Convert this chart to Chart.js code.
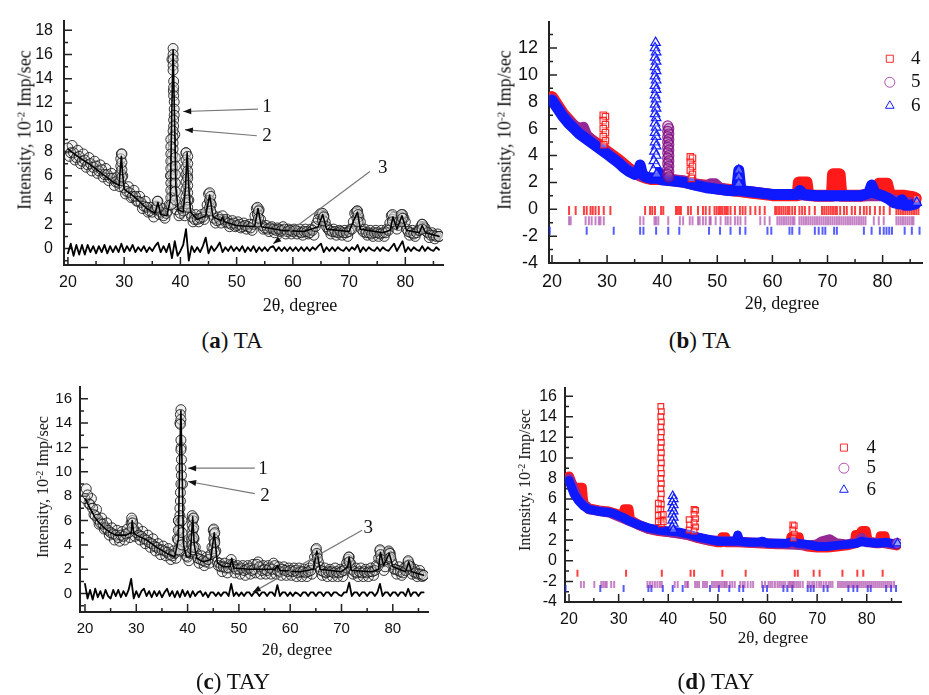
<!DOCTYPE html>
<html>
<head>
<meta charset="utf-8">
<script src="https://cdn.jsdelivr.net/npm/chart.js@4.4.0/dist/chart.umd.min.js"></script>
<style>
  body { margin: 0; width: 929px; height: 695px; background: #fff; position: relative; overflow: hidden; font-family: 'Liberation Serif', serif; color: #111; }
  canvas { position: absolute; }
  .ytitle { position: absolute; transform: translate(-50%, -50%) rotate(-90deg); white-space: nowrap; }
  .xtitle { position: absolute; transform: translate(-50%, -50%); white-space: nowrap; }
  .cap { position: absolute; transform: translate(-50%, -50%); white-space: nowrap; font-size: 23px; }
  sup { font-size: 0.62em; vertical-align: 0.55em; line-height: 0; }
</style>
</head>
<body>
<canvas id="chartA" width="460" height="300" style="left:0;top:0"></canvas>
<canvas id="chartB" width="469" height="300" style="left:460px;top:0"></canvas>
<canvas id="chartC" width="460" height="300" style="left:0;top:370px"></canvas>
<canvas id="chartD" width="469" height="300" style="left:460px;top:370px"></canvas>

<div class="ytitle" style="left:25px;top:130px;font-size:18px">Intensity, 10<sup>-2</sup> Imp/sec</div>
<div class="ytitle" style="left:505px;top:130px;font-size:18px">Intensity, 10<sup>-2</sup> Imp/sec</div>
<div class="ytitle" style="left:43px;top:487px;font-size:16px">Intensity, 10<sup>-2</sup> Imp/sec</div>
<div class="ytitle" style="left:525px;top:480px;font-size:16px">Intensity, 10<sup>-2</sup> Imp/sec</div>

<div class="xtitle" style="left:300px;top:305px;font-size:18px">2θ, degree</div>
<div class="xtitle" style="left:782px;top:303px;font-size:18px">2θ, degree</div>
<div class="xtitle" style="left:297px;top:650px;font-size:17px">2θ, degree</div>
<div class="xtitle" style="left:773px;top:638px;font-size:17px">2θ, degree</div>

<div class="cap" style="left:232px;top:341px">(<b>a</b>) TA</div>
<div class="cap" style="left:700px;top:341px">(<b>b</b>) TA</div>
<div class="cap" style="left:233px;top:682px">(<b>c</b>) TAY</div>
<div class="cap" style="left:716px;top:682px">(<b>d</b>) TAY</div>

<script>
// observed patterns: two interleaved half-degree samplings (20, 20.5, ... and 20.25, 20.75, ...)
const GRID_START = 20;
const GRID2_START = 20.25;
const GRID_STEP = 0.5;

const xLabels = [20, 30, 40, 50, 60, 70, 80];
const xMinor = [25, 35, 45, 55, 65, 75, 85];

// ---------- (a) TA ----------
const obsA = [
  8.3, 7.9, 7.9, 7.5, 7.6, 7.2, 7.3, 6.9, 7.0, 6.7,
  6.8, 6.4, 6.5, 6.1, 6.1, 5.8, 5.8, 5.5, 5.4, 7.8,
  5.0, 4.7, 4.6, 4.3, 4.3, 3.9, 3.8, 3.5, 3.4, 3.1,
  3.0, 3.2, 3.9, 3.0, 2.7, 2.9, 3.6, 15.6, 9.4, 3.6,
  2.9, 3.1, 7.9, 4.0, 2.6, 2.4, 2.4, 2.5, 2.6, 3.0,
  4.5, 3.6, 2.5, 2.3, 2.4, 2.7, 2.2, 2.1, 2.0, 2.1,
  1.9, 2.0, 1.8, 1.9, 1.8, 1.7, 2.0, 3.3, 3.2, 1.9,
  1.7, 1.6, 1.7, 1.6, 1.5, 1.6, 1.5, 1.6, 1.4, 1.5,
  1.4, 1.5, 1.4, 1.3, 1.4, 1.4, 1.3, 1.5, 1.8, 2.4,
  2.9, 2.7, 1.8, 1.5, 1.4, 1.4, 1.3, 1.4, 1.3, 1.3,
  1.4, 1.6, 2.9, 3.1, 2.2, 1.4, 1.3, 1.3, 1.2, 1.3,
  1.3, 1.2, 1.3, 1.3, 1.5, 2.7, 2.6, 1.6, 2.3, 2.8,
  2.2, 1.4, 1.3, 1.2, 1.3, 1.5, 2.0, 1.7, 1.3, 1.1,
  1.1, 1.0, 1.0
];
const obsA2 = [
  7.6, 8.5, 7.3, 8.1, 7.0, 7.8, 6.7, 7.5, 6.4, 7.2,
  6.2, 6.9, 5.9, 6.6, 5.6, 6.2, 5.2, 5.9, 5.1, 6.0,
  4.5, 5.1, 4.2, 4.8, 3.9, 4.3, 3.3, 3.9, 3.0, 3.4,
  2.6, 3.5, 2.8, 3.3, 2.5, 3.1, 6.0, 13.0, 3.2, 2.7,
  3.3, 2.7, 6.0, 2.9, 2.2, 2.8, 2.2, 2.8, 2.4, 3.6,
  3.9, 2.8, 2.1, 2.6, 2.1, 2.4, 2.4, 1.8, 2.3, 1.8,
  2.2, 1.7, 2.1, 1.6, 2.0, 1.5, 2.7, 2.9, 2.4, 1.6,
  1.9, 1.4, 1.8, 1.3, 1.7, 1.4, 1.8, 1.2, 1.6, 1.2,
  1.6, 1.2, 1.6, 1.1, 1.6, 1.2, 1.6, 1.1, 2.1, 2.8,
  2.4, 2.2, 1.6, 1.2, 1.6, 1.1, 1.5, 1.1, 1.5, 1.0,
  1.6, 2.2, 3.0, 2.6, 1.6, 1.6, 1.1, 1.5, 1.0, 1.5,
  1.0, 1.5, 1.0, 1.6, 2.1, 2.4, 2.0, 1.9, 2.6, 2.5,
  1.6, 1.1, 1.5, 1.0, 1.5, 1.8, 1.8, 1.4, 0.9, 1.3,
  0.8, 1.2
];
const peakA = [
  [29.4, 5.6], [29.4, 6.2], [29.4, 6.8], [29.4, 7.4], [29.6, 5.9], [29.6, 6.5], [29.6, 7.1], [29.6, 7.8],
  [35.9, 3.4], [35.9, 3.9],
  [38.7, 16.5], [38.7, 16.0], [38.7, 15.6], [38.7, 15.1], [38.7, 14.7], [38.8, 13.8], [38.8, 13.3], [38.8, 12.6],
  [38.9, 12.1], [38.9, 11.5], [38.9, 11.0], [38.8, 10.6], [38.8, 10.1], [38.7, 9.7], [38.7, 9.2], [38.7, 8.7],
  [38.7, 8.2], [38.6, 7.7], [38.6, 7.2], [38.6, 6.7], [38.6, 6.2], [38.6, 5.7], [38.6, 5.2], [38.6, 4.7],
  [38.6, 4.2], [38.6, 3.7], [38.3, 9.0], [38.3, 8.4], [38.3, 7.8], [38.3, 7.2], [38.3, 6.6], [38.3, 6.0],
  [38.3, 5.4], [38.3, 4.8], [38.3, 4.2], [38.3, 3.6], [39.1, 7.5], [39.1, 6.8], [39.1, 6.1], [39.1, 5.4],
  [39.1, 4.7], [39.1, 4.0],
  [41.0, 7.9], [41.0, 7.3], [41.0, 6.7], [41.0, 6.1], [41.0, 5.5], [41.0, 4.9], [41.0, 4.3], [41.0, 3.7],
  [41.3, 7.6], [41.3, 7.0], [41.3, 6.4], [41.3, 5.8], [41.3, 5.2], [41.3, 4.6], [41.3, 4.0], [41.3, 3.4],
  [45.2, 4.6], [45.2, 4.0], [45.2, 3.4], [45.4, 4.3], [45.4, 3.7], [45.4, 3.1],
  [53.7, 3.4], [53.7, 2.8], [53.7, 2.2], [53.9, 3.1], [53.9, 2.5],
  [65.3, 2.9], [65.3, 2.3], [65.5, 2.6],
  [71.4, 3.1], [71.4, 2.5], [71.6, 2.8], [71.6, 2.2],
  [77.7, 2.8], [77.7, 2.2], [79.3, 2.8], [79.3, 2.2], [79.5, 2.5],
  [83.0, 2.0], [83.0, 1.6], [86.0, 1.0]
];
const calcA = [
  [20, 8.2], [22, 7.5], [24, 6.9], [26, 6.2], [28, 5.5], [29.1, 5.2], [29.3, 6.5], [29.5, 7.6], [29.7, 6.3],
  [30, 4.9], [32, 4.2], [34, 3.3], [35.5, 2.9], [36, 3.8], [36.5, 2.8], [37.6, 2.7], [38.2, 4.0], [38.5, 12.0],
  [38.7, 16.4], [38.9, 12.0], [39.2, 5.0], [39.6, 3.2], [40.5, 3.0], [40.9, 5.0], [41.2, 7.9], [41.5, 5.0],
  [41.8, 3.0], [43, 2.4], [44.5, 2.7], [45.2, 4.4], [45.8, 2.6], [47.2, 2.3], [47.5, 2.6], [47.8, 2.2],
  [50, 1.9], [53.2, 1.8], [53.8, 3.3], [54.4, 1.8], [58, 1.5], [62, 1.4], [64.5, 1.8], [65.3, 2.8], [66, 1.6],
  [70, 1.4], [71, 2.5], [71.5, 3.0], [72, 1.6], [76, 1.3], [77.3, 1.5], [77.8, 2.6], [78.5, 1.6], [79.4, 2.7],
  [80.2, 1.5], [82.5, 1.3], [83, 1.9], [83.6, 1.3], [86, 1.0]
];
const diffA = [
  -0.4, 0.4, -0.6, 0.3, -0.5, 0.3, -0.5, 0.3, -0.3, 0.2,
  -0.4, 0.2, -0.3, 0.3, -0.4, 0.2, -0.3, 0.2, -0.3, 0.4,
  -0.3, 0.2, -0.2, 0.3, -0.3, 0.1, -0.2, 0.2, -0.3, 0.1,
  -0.2, 0.2, 0.5, -0.3, 0.2, -0.3, 0.4, -0.8, 0.6, -0.6,
  -0.2, 0.3, 1.6, -1.0, 0.2, -0.3, 0.1, -0.3, 0.2, 0.9,
  -0.4, 0.2, -0.2, 0.1, 0.5, -0.3, 0.1, -0.2, 0.2, -0.2,
  0.1, -0.2, 0.2, -0.3, 0.1, -0.2, 0.2, -0.3, 0.1, -0.2,
  0.1, -0.2, 0.1, 0.2, -0.2, 0.1, -0.2, 0.1, -0.2, 0.1,
  -0.2, 0.1, -0.2, 0.1, -0.2, 0.1, -0.2, 0.1, -0.1, 0.2,
  0.4, -0.3, 0.1, -0.2, 0.1, -0.2, 0.1, -0.1, -0.2, 0.1,
  -0.2, 0.1, -0.1, 0.3, -0.3, 0.1, -0.2, 0.1, -0.1, -0.2,
  0.1, -0.2, 0.1, -0.1, -0.2, 0.1, 0.4, -0.2, 0.2, 0.6,
  -0.3, 0.1, -0.2, 0.1, -0.1, -0.2, 0.2, -0.2, 0.1, -0.1,
  -0.2, 0.1, -0.1
];

// ---------- (c) TAY ----------
const obsC = [
  7.8, 8.1, 7.3, 7.0, 6.4, 6.1, 5.8, 5.7, 5.4, 5.2,
  5.0, 4.9, 4.8, 4.6, 4.8, 4.7, 4.9, 5.0, 5.8, 5.3,
  5.0, 4.8, 4.7, 4.5, 4.4, 4.2, 4.1, 3.9, 3.8, 3.6,
  3.6, 3.5, 3.4, 3.2, 3.1, 3.3, 4.5, 14.0, 9.0, 3.5,
  3.0, 3.3, 6.2, 3.8, 2.9, 2.8, 2.7, 2.6, 2.8, 3.2,
  5.2, 3.5, 2.3, 2.2, 2.2, 2.1, 2.1, 2.8, 2.2, 2.0,
  2.0, 2.1, 1.9, 2.0, 2.1, 1.9, 2.0, 2.4, 2.2, 1.9,
  2.0, 1.9, 2.1, 2.0, 2.3, 1.9, 1.8, 2.0, 1.9, 1.8,
  1.9, 1.8, 1.9, 1.7, 1.8, 1.8, 1.7, 1.8, 1.9, 2.4,
  3.6, 2.6, 1.9, 1.8, 1.7, 1.8, 1.8, 1.7, 1.8, 1.7,
  1.8, 1.9, 2.5, 3.0, 2.0, 1.8, 1.7, 1.8, 1.7, 1.8,
  1.7, 1.8, 1.8, 1.9, 2.2, 3.5, 2.6, 2.2, 3.2, 3.3,
  2.4, 2.0, 1.9, 1.8, 1.7, 1.9, 2.6, 2.2, 1.8, 1.7,
  1.6, 1.6, 1.5
];
const obsC2 = [
  8.6, 7.4, 7.8, 6.5, 6.9, 5.7, 6.2, 5.3, 5.8, 4.8,
  5.4, 4.4, 5.2, 4.3, 5.1, 4.4, 5.3, 4.6, 6.0, 4.7,
  5.4, 4.4, 5.1, 4.1, 4.8, 3.8, 4.5, 3.5, 4.1, 3.2,
  3.9, 3.1, 3.7, 2.8, 3.5, 2.9, 6.0, 12.0, 3.9, 3.1,
  2.7, 4.5, 4.5, 3.3, 2.5, 3.1, 2.3, 3.0, 2.5, 3.8,
  4.4, 2.6, 2.5, 1.8, 2.5, 1.7, 2.4, 2.4, 1.7, 2.3,
  1.6, 2.3, 1.5, 2.3, 1.6, 2.4, 1.7, 2.6, 1.6, 2.3,
  1.6, 2.3, 1.6, 2.5, 1.6, 2.2, 1.5, 2.2, 1.5, 2.1,
  1.5, 2.1, 1.4, 2.1, 1.4, 2.0, 1.4, 2.1, 1.6, 3.0,
  3.2, 2.2, 1.5, 2.1, 1.4, 2.0, 1.4, 2.1, 1.4, 2.0,
  1.4, 2.1, 2.8, 2.5, 1.6, 2.1, 1.4, 2.1, 1.4, 2.0,
  1.4, 2.1, 1.5, 2.3, 2.9, 3.0, 1.9, 2.8, 3.4, 2.7,
  2.0, 1.6, 2.2, 1.5, 2.1, 2.3, 2.4, 1.6, 2.0, 1.4,
  1.9, 1.4
];
const peakC = [
  [29.1, 6.2], [29.3, 5.8], [29.2, 5.4],
  [38.7, 15.1], [38.6, 14.7], [38.7, 14.3], [38.6, 13.9], [38.7, 12.6], [38.7, 11.8], [38.8, 11.0], [38.7, 10.3],
  [38.8, 9.7], [38.7, 9.0], [38.6, 8.3], [38.6, 7.6], [38.5, 7.0], [38.5, 6.4], [38.5, 5.8], [38.5, 5.2],
  [38.5, 4.6], [38.5, 4.0], [38.4, 3.5], [38.2, 6.0], [38.2, 5.2], [38.2, 4.4], [38.2, 3.6], [38.9, 6.0],
  [38.9, 5.0], [38.9, 4.0],
  [40.9, 6.4], [41.0, 6.0], [40.9, 5.6], [41.0, 5.2], [40.9, 4.8], [41.0, 4.4], [40.9, 4.0], [41.0, 3.6],
  [41.2, 6.2], [41.2, 5.4], [41.2, 4.6], [41.2, 3.8],
  [45.1, 5.3], [45.2, 4.9], [45.1, 4.5], [45.2, 4.1], [45.1, 3.7], [45.3, 5.0], [45.3, 4.2], [45.3, 3.4],
  [65.1, 3.7], [65.2, 3.3], [65.3, 2.9],
  [71.4, 3.0], [71.5, 2.6],
  [77.5, 3.6], [77.6, 3.2], [77.7, 2.8],
  [79.2, 3.5], [79.4, 3.3], [79.3, 2.9], [79.6, 3.0],
  [83.0, 2.7], [83.1, 2.3], [86.0, 1.5]
];
const calcC = [
  [20, 7.8], [21, 7.0], [22, 6.2], [23, 5.7], [24, 5.3], [25, 5.0], [26, 4.8], [28, 4.8], [29, 5.0],
  [29.2, 6.0], [29.5, 5.0], [30, 4.8], [32, 4.4], [34, 3.8], [36, 3.3], [37.5, 3.0], [38.2, 4.5], [38.5, 12.0],
  [38.7, 15.0], [38.9, 11.0], [39.2, 4.0], [39.8, 3.0], [40.5, 3.0], [40.8, 5.0], [41.0, 6.3], [41.3, 4.0],
  [41.8, 2.9], [43, 2.6], [44.5, 2.8], [45.2, 5.0], [45.8, 2.5], [47, 2.2], [48.3, 2.2], [48.6, 2.9],
  [49, 2.1], [52, 2.0], [54, 2.0], [57, 2.0], [57.5, 2.3], [58, 1.9], [62, 1.8], [64.5, 2.0], [65.2, 3.5],
  [65.8, 2.0], [70, 1.8], [71.2, 2.2], [71.5, 3.0], [71.9, 1.9], [76, 1.8], [77.2, 2.0], [77.6, 3.4],
  [78.2, 2.3], [79.3, 3.3], [80, 2.2], [82.5, 1.8], [83.1, 2.6], [83.7, 1.8], [86, 1.5]
];
const diffC = [
  0.8, -0.4, 0.3, -0.5, 0.4, -0.3, 0.2, -0.4, 0.3, -0.2,
  -0.4, 0.3, -0.2, 0.3, -0.3, 0.2, -0.2, 0.3, 1.2, -0.4,
  0.2, -0.3, 0.2, 0.4, -0.2, 0.2, -0.3, 0.2, -0.2, 0.2,
  -0.3, 0.1, 0.4, -0.2, 0.2, -0.3, 0.2, -0.3, 0.3, -0.2,
  0.2, -0.3, 0.2, -0.2, 0.1, 0.2, -0.2, 0.1, -0.3, 0.1,
  0.1, -0.2, 0.1, -0.2, 0.1, 0.1, -0.2, 0.8, -0.2, 0.1,
  -0.2, 0.1, -0.2, 0.1, 0.1, -0.2, 0.1, 0.1, -0.2, 0.1,
  0.1, -0.2, 0.1, 0.1, -0.2, 0.7, -0.2, 0.1, 0.1, -0.2,
  0.1, -0.2, 0.1, 0.0, -0.2, 0.1, 0.1, -0.2, 0.1, 0.1,
  -0.2, 0.1, 0.1, -0.2, 0.1, 0.1, -0.2, 0.1, 0.1, -0.1,
  -0.2, 0.1, 0.1, 0.9, -0.2, 0.1, 0.1, -0.2, 0.1, 0.1,
  -0.2, 0.1, 0.1, -0.2, 0.1, 0.8, -0.2, 0.1, 0.1, -0.2,
  0.1, 0.1, -0.2, 0.1, 0.1, -0.2, 0.4, -0.2, 0.1, 0.1,
  -0.2, 0.1, 0.1
];

// ---------- (b) TA, phases 4 / 5 / 6 ----------
const bandRedB = [
  [20, 8.35], [22, 7.1], [24, 6.2], [26, 5.5], [28, 4.9], [29, 4.6], [30, 4.3], [32, 3.7], [34, 3.0], [35, 2.75],
  [36, 2.5], [37, 2.35], [38, 2.25], [40, 2.25], [42, 2.15], [44, 2.05], [46, 1.85], [48, 1.75], [50, 1.55],
  [52, 1.45], [54, 1.35], [56, 1.25], [58, 1.15], [60, 1.05], [62, 1.05], [64.6, 1.05], [64.8, 2.0], [66.2, 2.0],
  [66.5, 1.05], [68, 1.0], [70.8, 1.0], [71.0, 2.6], [72.2, 2.6], [72.5, 1.0], [74, 1.0], [76, 1.0], [78, 1.1],
  [79.2, 1.3], [79.4, 1.9], [80.8, 1.9], [81.2, 1.2], [82, 1.0], [84, 1.0], [85.5, 0.9], [86, 0.8]
];
const bandPurB = [
  [20, 8.2], [22, 7.0], [24, 6.2], [25.2, 6.0], [25.7, 6.1], [26.3, 5.5], [28, 4.8], [30, 4.2], [32, 3.5],
  [34, 2.9], [36, 2.5], [38, 2.3], [40, 2.3], [42, 2.2], [44, 2.1], [46, 1.9], [48, 1.7], [48.8, 1.9],
  [49.6, 1.9], [50.4, 1.6], [52, 1.4], [56, 1.3], [60, 1.1], [64, 1.1], [68, 1.0], [72, 1.0], [76, 1.0],
  [80, 1.0], [82, 0.7], [84, 0.5], [86, 0.5]
];
const bandBlueB = [
  [20, 8.1], [21, 7.5], [22, 6.9], [23, 6.4], [24, 6.0], [25, 5.6], [26, 5.3], [27, 5.0], [28, 4.7], [29, 4.4],
  [30, 4.1], [31, 3.8], [32, 3.5], [33, 3.1], [34, 2.8], [35, 2.6], [35.6, 2.8], [36.0, 3.3], [36.4, 2.6],
  [37, 2.4], [38, 2.3], [39.2, 2.3], [39.5, 2.7], [39.8, 2.2], [42, 2.1], [44, 2.0], [46, 1.8], [48, 1.6],
  [50, 1.5], [52, 1.4], [53.5, 1.4], [53.9, 2.9], [54.3, 1.4], [56, 1.3], [58, 1.2], [60, 1.1], [62, 1.1],
  [64.5, 1.1], [65, 1.4], [65.5, 1.1], [68, 1.0], [72, 1.0], [76, 1.0], [77.5, 1.2], [78, 1.8], [78.6, 1.2],
  [80, 1.0], [81, 0.8], [82, 0.5], [83, 0.4], [83.5, 0.7], [84, 0.3], [85, 0.3], [86, 0.4]
];
const colRedB = [
  [29.3, 7.0], [29.7, 6.9], [29.3, 6.6], [29.7, 6.3], [29.3, 6.0], [29.7, 5.7], [29.3, 5.4], [29.7, 5.1], [29.4, 4.8],
  [45.1, 3.9], [45.5, 3.8], [45.1, 3.5], [45.5, 3.2], [45.1, 2.9], [45.5, 2.6], [45.3, 2.3],
  [86.2, 0.8]
];
const colPurB = [
  [41.0, 6.2], [41.2, 6.0], [41.0, 5.8], [41.2, 5.6], [41.0, 5.4], [41.2, 5.2], [41.0, 5.0], [41.2, 4.8],
  [41.0, 4.6], [41.2, 4.4], [41.0, 4.2], [41.2, 4.0], [41.0, 3.8], [41.2, 3.6], [41.0, 3.4], [41.2, 3.2],
  [41.0, 3.0], [41.2, 2.8], [41.0, 2.6], [41.2, 2.4]
];
const colBlueB = [
  [38.8, 12.4], [38.7, 12.0], [38.9, 11.7], [38.7, 11.3], [38.9, 11.0], [38.7, 10.6], [38.9, 10.3], [38.7, 9.9],
  [38.9, 9.6], [38.7, 9.2], [38.9, 8.9], [38.7, 8.5], [38.9, 8.2], [38.7, 7.8], [38.9, 7.5], [38.7, 7.1],
  [38.9, 6.8], [38.7, 6.4], [38.9, 6.1], [38.7, 5.7], [38.9, 5.4], [38.7, 5.0], [38.9, 4.7], [38.6, 4.3],
  [38.9, 4.0], [38.5, 3.6], [38.9, 3.3], [38.4, 2.9], [39.0, 2.6],
  [53.9, 2.9], [53.9, 2.4], [53.9, 1.9], [86.2, 0.5]
];
const tickRowsB = [-0.1, -0.85, -1.6];
const tickRedB = [
  23.1, 24.3, 25.8, 26.3, 27.0, 27.4, 27.9, 28.5, 29.4, 30.6, 36.9, 37.8, 38.2, 38.7, 39.8, 40.2, 42.5, 42.8,
  43.1, 43.4, 44.7, 45.2, 46.5, 47.4, 47.9, 48.6, 49.5, 49.9, 50.3, 50.6, 50.9, 51.3, 51.6, 51.9, 52.4, 53.2,
  54.1, 54.6, 55.1, 56.0, 56.9, 57.7, 58.6, 60.5, 60.8, 61.2, 61.6, 62.0, 62.4, 62.8, 63.1, 63.6, 64.1, 64.9,
  65.4, 65.9, 66.7, 67.7, 69.0, 69.4, 69.8, 70.2, 70.6, 71.0, 71.4, 71.7, 72.3, 73.0, 73.5, 74.4, 75.0, 75.9,
  76.6, 77.1, 77.7, 78.6, 79.5, 80.2, 81.3, 82.5, 82.9, 83.3, 83.7, 84.1, 84.5, 84.9, 85.3, 85.7, 86.1, 86.5
];
const tickPurB = [
  23.1, 23.4, 26.1, 26.7, 27.2, 27.9, 28.5, 28.8, 29.4, 36.0, 36.6, 38.6, 38.9, 39.3, 41.1, 43.2, 43.8, 45.0,
  45.5, 46.5, 46.8, 47.4, 47.9, 48.6, 48.8, 49.7, 50.6, 51.5, 51.9, 52.4, 53.2, 53.7, 54.2, 55.1, 57.8, 58.6,
  59.5, 60.9, 61.3, 61.7, 62.1, 62.5, 62.9, 63.3, 63.7, 64.0, 64.9, 65.3, 65.7, 66.1, 66.5, 66.9, 67.3, 67.7,
  68.1, 68.5, 68.9, 69.3, 69.7, 70.1, 70.5, 70.9, 71.3, 71.7, 72.1, 72.5, 72.9, 73.3, 73.7, 74.1, 74.5, 74.9,
  75.3, 75.7, 76.1, 76.5, 76.9, 78.4, 79.3, 80.2, 82.5, 82.9, 83.3, 83.7, 84.1, 84.5, 84.9, 85.3, 85.6
];
const tickBlueB = [
  19.6, 26.3, 31.2, 36.0, 36.6, 38.9, 41.1, 43.1, 48.5, 50.5, 52.4, 54.1, 55.1, 59.1, 59.8, 63.1, 63.6, 64.9,
  67.7, 68.4, 69.1, 69.6, 71.2, 71.7, 76.6, 78.0, 79.5, 80.2, 80.7, 81.2, 81.7, 84.0, 85.3, 86.7
];

// ---------- (d) TAY, phases 4 / 5 / 6 ----------
const bandRedD = [
  [20, 8.2], [21, 7.0], [21.4, 6.5], [21.6, 7.1], [22.6, 7.1], [22.8, 6.0], [23, 5.5], [24, 5.1], [26, 4.9],
  [28, 4.8], [30, 4.5], [31, 4.3], [31.2, 5.0], [32.0, 5.0], [32.3, 4.0], [34, 3.5], [36, 3.1], [38, 2.9],
  [40, 2.8], [42, 2.7], [44, 2.5], [46, 2.2], [48, 2.0], [50, 1.8], [50.7, 1.8], [50.9, 2.3], [51.5, 2.3],
  [51.7, 1.8], [54, 1.8], [58, 1.7], [62, 1.6], [64.6, 1.6], [64.8, 2.3], [66.3, 2.3], [66.5, 1.6], [68, 1.4],
  [70, 1.3], [72, 1.3], [74, 1.4], [76, 1.5], [77.6, 1.7], [77.8, 2.5], [78.6, 2.5], [79.0, 2.9], [79.8, 2.9],
  [80.2, 1.9], [82, 1.7], [82.6, 1.7], [82.8, 2.4], [83.6, 2.4], [83.8, 1.7], [86, 1.5]
];
const bandPurD = [
  [20, 8.0], [22, 5.9], [24, 5.0], [28, 4.7], [32, 3.9], [36, 3.1], [40, 2.8], [44, 2.5], [48, 2.0], [52, 1.9],
  [56, 1.8], [60, 1.7], [64, 1.6], [68, 1.5], [70, 1.6], [71, 1.9], [72.5, 2.1], [73.8, 1.7], [76, 1.6],
  [78, 1.8], [79, 2.2], [80, 1.8], [84, 1.7], [86, 1.6]
];
const bandBlueD = [
  [20, 7.8], [21, 6.5], [22, 5.8], [23, 5.3], [24, 5.0], [26, 4.8], [28, 4.7], [29, 4.6], [30, 4.4], [31, 4.2],
  [32, 3.9], [34, 3.5], [36, 3.2], [38, 3.0], [40, 2.9], [42, 2.8], [44, 2.6], [46, 2.3], [48, 2.1], [50, 1.9],
  [52, 1.9], [53.6, 1.9], [54, 2.5], [54.4, 1.9], [56, 1.8], [58, 1.8], [59, 1.9], [60, 1.7], [62, 1.7],
  [64, 1.7], [65, 1.9], [66, 1.7], [68, 1.6], [70, 1.4], [72, 1.4], [74, 1.5], [76, 1.6], [78, 1.7], [79, 1.9],
  [80, 1.8], [82, 1.7], [84, 1.8], [85, 1.7], [86, 1.6]
];
const colRedD = [
  [38.5, 15.0], [38.6, 14.5], [38.5, 14.0], [38.6, 13.5], [38.5, 13.0], [38.6, 12.5], [38.5, 12.0], [38.6, 11.5],
  [38.5, 11.0], [38.6, 10.5], [38.5, 10.0], [38.6, 9.5], [38.5, 9.0], [38.6, 8.5], [38.5, 8.0], [38.6, 7.5],
  [38.5, 7.0], [38.6, 6.5], [38.5, 6.0], [38.6, 5.5], [38.5, 5.0], [38.6, 4.5], [38.5, 4.0], [38.6, 3.6],
  [38.0, 5.6], [38.0, 5.0], [38.0, 4.4], [38.0, 3.8], [39.0, 4.5], [39.0, 3.8],
  [44.2, 4.0], [44.3, 3.5], [44.2, 3.0],
  [45.2, 5.0], [45.5, 4.9], [45.2, 4.5], [45.5, 4.1], [45.2, 3.7], [45.5, 3.3], [45.2, 2.9],
  [65.1, 3.5], [65.4, 3.4], [65.1, 3.0], [65.4, 2.6], [65.2, 2.2]
];
const colPurD = [[86.1, 1.7]];
const colBlueD = [
  [40.9, 6.3], [41.1, 6.0], [40.8, 5.7], [41.1, 5.4], [40.8, 5.1], [41.1, 4.8], [40.8, 4.5], [41.1, 4.2],
  [40.8, 3.9], [41.1, 3.6], [40.8, 3.3], [41.0, 3.0], [86.2, 1.7]
];
const tickRowsD = [-1.2, -2.3, -2.7];
const tickRedD = [21.7, 31.5, 38.7, 44.5, 45.2, 50.9, 55.6, 65.5, 66.1, 69.3, 70.5, 75.1, 78.1, 79.3, 83.2];
const tickPurD = [
  22.4, 23.0, 25.1, 26.5, 26.9, 27.3, 27.6, 28.5, 29.1, 35.8, 36.3, 36.8, 37.3, 37.8, 38.3, 38.7, 41.3, 41.9,
  43.4, 43.8, 44.0, 45.4, 45.8, 46.2, 47.0, 47.4, 47.8, 48.8, 49.2, 49.6, 50.0, 50.4, 50.8, 51.2, 51.5, 51.8,
  52.4, 52.9, 53.4, 54.5, 55.0, 55.4, 56.0, 56.6, 57.1, 58.9, 59.5, 60.2, 60.6, 61.0, 61.5, 62.0, 62.4, 62.8,
  63.2, 63.6, 64.2, 64.5, 64.8, 65.1, 65.4, 65.8, 66.2, 66.6, 67.1, 68.1, 68.5, 69.0, 69.4, 69.9, 70.4, 70.8,
  71.3, 71.8, 72.3, 72.7, 73.1, 74.2, 74.6, 75.0, 75.4, 75.8, 76.2, 76.6, 77.0, 77.4, 77.8, 78.2, 78.6, 79.0,
  79.4, 79.8, 80.2, 80.6, 81.0, 81.4, 81.8, 82.2, 82.6, 83.0, 83.4, 83.8, 84.2, 84.6, 85.0, 85.5
];
const tickBlueD = [
  19.3, 26.3, 31.0, 36.0, 36.6, 38.9, 40.9, 42.9, 48.4, 50.2, 52.3, 54.3, 55.1, 59.1, 59.9, 63.2, 64.0, 65.0,
  68.1, 68.7, 69.3, 71.3, 72.1, 76.3, 77.3, 78.1, 80.2, 80.8, 83.9, 84.9, 85.9
];

const phaseNames = ['4', '5', '6'];

// ---------- helpers ----------
const RED = 'rgba(255,20,20,0.9)';
const PURPLE = 'rgba(130,10,130,0.85)';
const BLUE = 'rgba(10,20,255,0.95)';

Chart.defaults.font.family = "'Liberation Sans', Arial, sans-serif";
Chart.defaults.color = '#111';

const onGrid = (ys, start) => ys.map((y, i) => ({ x: start + i * GRID_STEP, y }));
const fromPairs = p => p.map(([x, y]) => ({ x, y }));
const onRow = (xs, level) => xs.map(x => ({ x, y: level }));
const odd = (lo, hi) => { const r = []; for (let v = lo; v <= hi; v += 2) r.push(v); return r; };

// band circles are a touch darker than the isolated peak circles
const circles = (data, order, fill) => ({
  data, order, pointStyle: 'circle', pointRadius: 5, borderWidth: 1,
  borderColor: 'rgba(20,20,20,0.85)', backgroundColor: fill || 'rgba(225,225,225,0.5)'
});
const line = (data, color, width, order) => ({
  data, order, showLine: true, pointRadius: 0, borderColor: color, borderWidth: width,
  borderJoinStyle: 'round', borderCapStyle: 'round', tension: 0
});
const hollow = (data, style, color, r, order, fill) => ({
  data, order, pointStyle: style, pointRadius: r, borderWidth: 1.2,
  borderColor: color, backgroundColor: fill || 'rgba(255,255,255,0.35)'
});
const bars = (data, color, r, order) => ({
  data, order, pointStyle: 'line', rotation: 90, pointRadius: r, borderWidth: 2, borderColor: color
});

function tickPlugin(t) {
  return {
    id: 'inwardTicks',
    beforeDatasetsDraw(chart) {
      const { ctx, chartArea: a, scales: { x, y } } = chart;
      ctx.save();
      ctx.strokeStyle = '#222';
      ctx.lineWidth = 1.5;
      ctx.beginPath();
      xLabels.forEach(v => { const p = x.getPixelForValue(v); ctx.moveTo(p, a.bottom); ctx.lineTo(p, a.bottom - 8); });
      xMinor.forEach(v => { const p = x.getPixelForValue(v); ctx.moveTo(p, a.bottom); ctx.lineTo(p, a.bottom - 4); });
      t.yMajor.forEach(v => { const p = y.getPixelForValue(v); ctx.moveTo(a.left, p); ctx.lineTo(a.left + 8, p); });
      t.yMinor.forEach(v => { const p = y.getPixelForValue(v); ctx.moveTo(a.left, p); ctx.lineTo(a.left + 4, p); });
      ctx.stroke();
      ctx.restore();
    }
  };
}

function notesPlugin(n) {
  return {
    id: 'notes',
    afterDatasetsDraw(chart) {
      const { ctx, scales: { x, y } } = chart;
      ctx.save();
      (n.arrows || []).forEach(ar => {
        const x1 = x.getPixelForValue(ar.from[0]), y1 = y.getPixelForValue(ar.from[1]);
        const x2 = x.getPixelForValue(ar.to[0]), y2 = y.getPixelForValue(ar.to[1]);
        ctx.strokeStyle = '#777';
        ctx.lineWidth = 1.2;
        ctx.beginPath(); ctx.moveTo(x1, y1); ctx.lineTo(x2, y2); ctx.stroke();
        const ang = Math.atan2(y2 - y1, x2 - x1);
        ctx.fillStyle = '#111';
        ctx.beginPath();
        ctx.moveTo(x2, y2);
        ctx.lineTo(x2 - 8 * Math.cos(ang) + 3 * Math.sin(ang), y2 - 8 * Math.sin(ang) - 3 * Math.cos(ang));
        ctx.lineTo(x2 - 8 * Math.cos(ang) - 3 * Math.sin(ang), y2 - 8 * Math.sin(ang) + 3 * Math.cos(ang));
        ctx.closePath();
        ctx.fill();
      });
      ctx.font = "19px 'Liberation Serif', serif";
      ctx.fillStyle = '#111';
      ctx.textAlign = 'center';
      ctx.textBaseline = 'middle';
      (n.labels || []).forEach(l => ctx.fillText(l.text, x.getPixelForValue(l.at[0]), y.getPixelForValue(l.at[1])));
      if (n.legend) {
        const lg = n.legend;
        const styles = ['rect', 'circle', 'triangle'];
        const colors = [RED, 'rgba(160,40,160,0.8)', BLUE];
        phaseNames.forEach((name, i) => {
          const px = x.getPixelForValue(lg.markX), py = y.getPixelForValue(lg.rows[i]);
          ctx.strokeStyle = colors[i];
          ctx.fillStyle = 'rgba(255,255,255,0)';
          Chart.helpers.drawPoint(ctx, { pointStyle: styles[i], radius: 5, borderWidth: 1.2, rotation: 0 }, px, py);
          ctx.fillStyle = '#111';
          ctx.fillText(name, x.getPixelForValue(lg.textX), py);
        });
      }
      ctx.restore();
    }
  };
}

function makeChart(id, cfg) {
  const canvas = document.getElementById(id);
  const a = cfg.area;
  return new Chart(canvas, {
    type: 'scatter',
    data: { datasets: cfg.datasets },
    options: {
      responsive: false,
      animation: false,
      events: [],
      layout: { padding: { top: a.top, right: canvas.width - a.right, left: 0, bottom: 0 } },
      plugins: { legend: { display: false }, tooltip: { enabled: false } },
      scales: {
        x: {
          type: 'linear', min: cfg.x[0], max: cfg.x[1],
          afterBuildTicks: s => { s.ticks = xLabels.map(v => ({ value: v })); },
          afterFit: s => { s.height = canvas.height - a.bottom; },
          grid: { display: false, drawTicks: false },
          border: { display: true, color: '#222', width: 2 },
          ticks: { padding: 8, maxRotation: 0, autoSkip: false, font: { size: cfg.font } }
        },
        y: {
          type: 'linear', min: cfg.y[0], max: cfg.y[1],
          afterBuildTicks: s => { s.ticks = cfg.yLabels.map(v => ({ value: v })); },
          afterFit: s => { s.width = a.left; },
          grid: { display: false, drawTicks: false },
          border: { display: true, color: '#222', width: 2 },
          ticks: { padding: cfg.yPad, autoSkip: false, font: { size: cfg.font } }
        }
      }
    },
    plugins: [tickPlugin(cfg.ticks), notesPlugin(cfg.notes)]
  });
}

const BAND_FILL = 'rgba(200,200,200,0.2)';

// ---------- (a) ----------
const yLabelsA = [0, 2, 4, 6, 8, 10, 12, 14, 16, 18];
makeChart('chartA', {
  area: { left: 64, top: 13, right: 443, bottom: 265 },
  x: [19.3, 86.7], y: [-1.36, 18.8], yLabels: yLabelsA, font: 16, yPad: 11,
  ticks: { yMajor: yLabelsA, yMinor: odd(-1, 17) },
  notes: {
    arrows: [
      { from: [53.8, 11.5], to: [40.5, 11.3] },
      { from: [53.6, 9.3], to: [40.8, 9.8] },
      { from: [73.7, 6.35], to: [56.5, 0.4] }
    ],
    labels: [{ text: '1', at: [55.4, 11.7] }, { text: '2', at: [55.4, 9.3] }, { text: '3', at: [76.0, 6.6] }]
  },
  datasets: [
    line(fromPairs(calcA), '#000', 1.6, 0),
    line(onGrid(diffA, GRID_START), '#000', 1.8, 1),
    circles(fromPairs(peakA), 2),
    circles(onGrid(obsA, GRID_START), 3, BAND_FILL),
    circles(onGrid(obsA2, GRID2_START), 4, BAND_FILL)
  ]
});

// ---------- (b) ----------
const yLabelsB = [-4, -2, 0, 2, 4, 6, 8, 10, 12];
makeChart('chartB', {
  area: { left: 89, top: 13, right: 467, bottom: 263 },
  x: [19.46, 87.2], y: [-4, 13.95], yLabels: yLabelsB, font: 18, yPad: 11,
  ticks: { yMajor: yLabelsB, yMinor: odd(-3, 13) },
  notes: { legend: { markX: 81.3, textX: 86.0, rows: [11.2, 9.45, 7.7] } },
  datasets: [
    hollow(fromPairs(colBlueB), 'triangle', BLUE, 5.5, 0),
    hollow(fromPairs(colPurB), 'circle', PURPLE, 5, 1, 'rgba(170,90,170,0.3)'),
    hollow(fromPairs(colRedB), 'rect', RED, 4.5, 2),
    line(fromPairs(bandBlueB), 'rgb(15,25,255)', 11, 3),
    line(fromPairs(bandPurB), 'rgb(150,40,150)', 11, 4),
    line(fromPairs(bandRedB), 'rgb(255,25,25)', 12, 5),
    bars(onRow(tickRedB, tickRowsB[0]), 'rgba(255,30,30,0.85)', 4.5, 6),
    bars(onRow(tickPurB, tickRowsB[1]), 'rgba(150,30,150,0.55)', 4.5, 7),
    bars(onRow(tickBlueB, tickRowsB[2]), 'rgba(30,40,255,0.75)', 4, 8)
  ]
});

// ---------- (c) ----------
const yLabelsC = [0, 2, 4, 6, 8, 10, 12, 14, 16];
makeChart('chartC', {
  area: { left: 80, top: 10, right: 428, bottom: 242 },
  x: [19.03, 86.86], y: [-1.51, 16.96], yLabels: yLabelsC, font: 15, yPad: 8,
  ticks: { yMajor: yLabelsC, yMinor: odd(-1, 15) },
  notes: {
    arrows: [
      { from: [53.1, 10.3], to: [40.1, 10.3] },
      { from: [53.1, 8.2], to: [40.1, 9.2] },
      { from: [74.0, 5.2], to: [52.7, 0.1] }
    ],
    labels: [{ text: '1', at: [54.7, 10.2] }, { text: '2', at: [55.1, 8.0] }, { text: '3', at: [75.2, 5.4] }]
  },
  datasets: [
    line(fromPairs(calcC), '#000', 1.6, 0),
    line(onGrid(diffC, GRID_START), '#000', 1.8, 1),
    circles(fromPairs(peakC), 2),
    circles(onGrid(obsC, GRID_START), 3, BAND_FILL),
    circles(onGrid(obsC2, GRID2_START), 4, BAND_FILL)
  ]
});

// ---------- (d) ----------
const yLabelsD = [-4, -2, 0, 2, 4, 6, 8, 10, 12, 14, 16];
makeChart('chartD', {
  area: { left: 105, top: 7, right: 441, bottom: 232 },
  x: [19.19, 86.9], y: [-4, 16.83], yLabels: yLabelsD, font: 16, yPad: 8,
  ticks: { yMajor: yLabelsD, yMinor: odd(-3, 15) },
  notes: { legend: { markX: 75.4, textX: 80.9, rows: [11.0, 9.0, 6.9] } },
  datasets: [
    hollow(fromPairs(colBlueD), 'triangle', BLUE, 5, 0),
    hollow(fromPairs(colPurD), 'circle', PURPLE, 5, 1),
    hollow(fromPairs(colRedD), 'rect', RED, 4, 2),
    line(fromPairs(bandBlueD), 'rgb(15,25,255)', 9, 3),
    line(fromPairs(bandPurD), 'rgb(150,40,150)', 10, 4),
    line(fromPairs(bandRedD), 'rgb(255,25,25)', 10, 5),
    bars(onRow(tickRedD, tickRowsD[0]), 'rgba(255,30,30,0.85)', 3.5, 6),
    bars(onRow(tickPurD, tickRowsD[1]), 'rgba(150,30,150,0.55)', 3.5, 7),
    bars(onRow(tickBlueD, tickRowsD[2]), 'rgba(30,40,255,0.75)', 3.5, 8)
  ]
});
</script>
</body>
</html>
